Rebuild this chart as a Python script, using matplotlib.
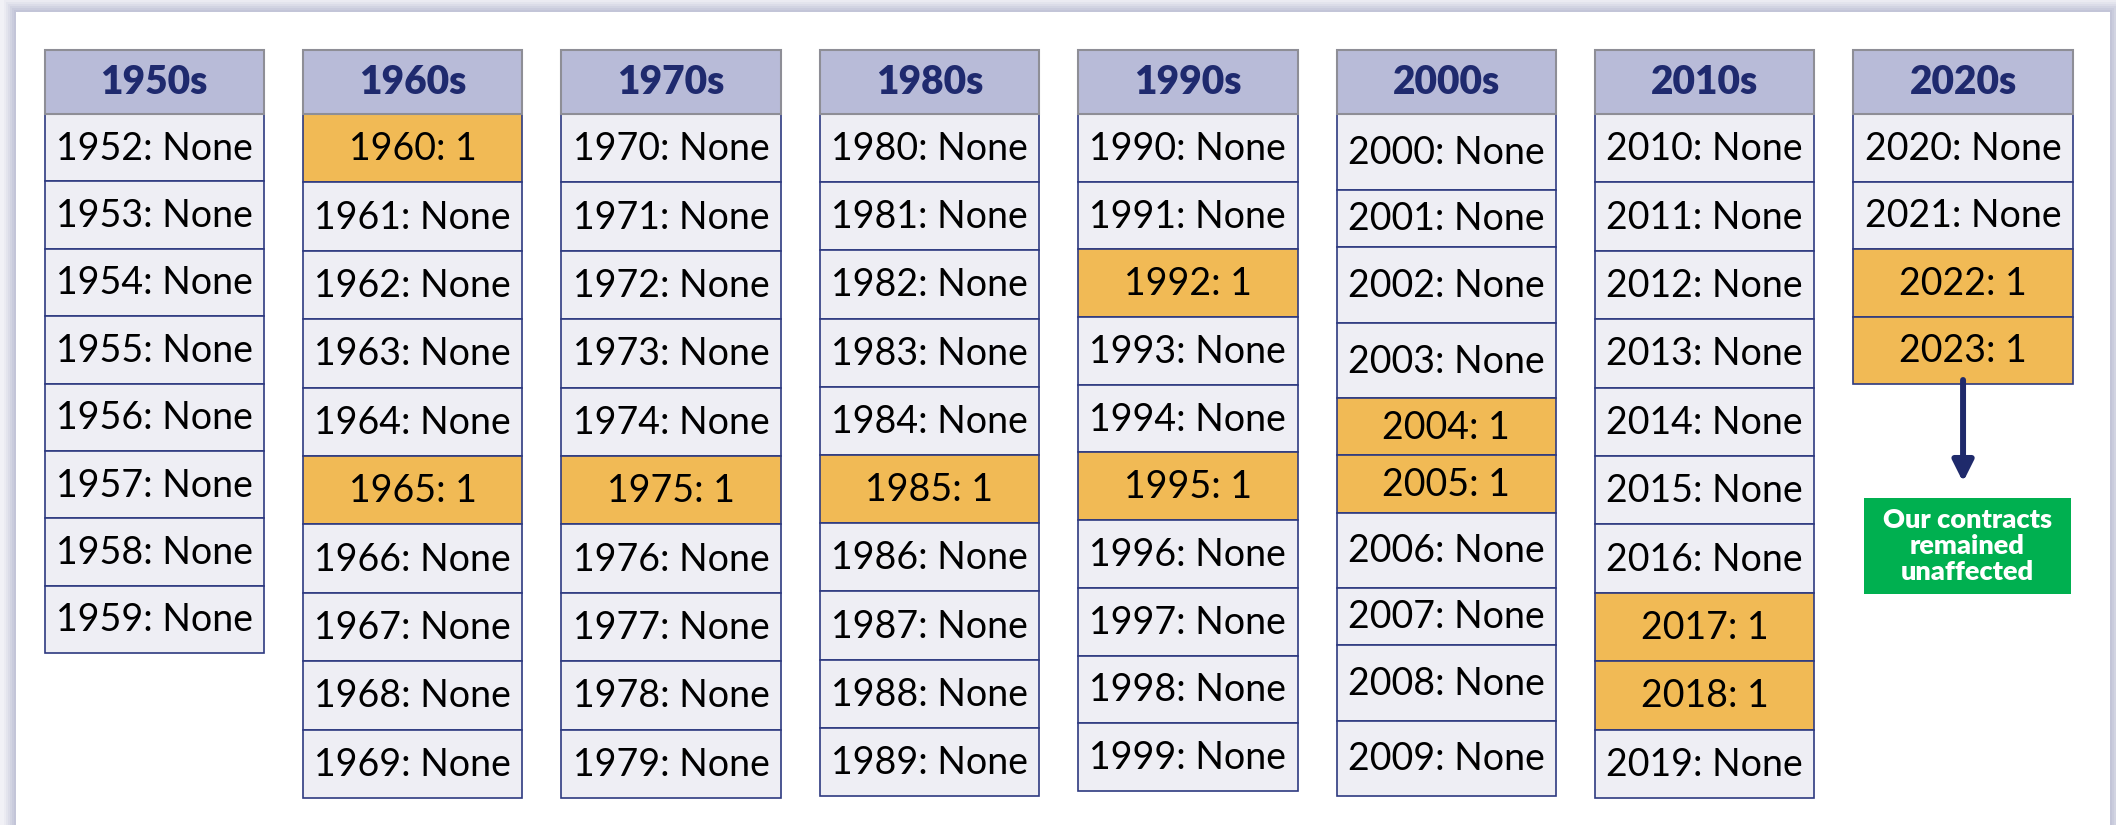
import matplotlib
matplotlib.use("Agg")
import matplotlib.pyplot as plt
from matplotlib.patches import Rectangle

# --- data ---
decades = ["1950s", "1960s", "1970s", "1980s", "1990s", "2000s", "2010s", "2020s"]
decade_years = [
    list(range(1952, 1960)),
    list(range(1960, 1970)),
    list(range(1970, 1980)),
    list(range(1980, 1990)),
    list(range(1990, 2000)),
    list(range(2000, 2010)),
    list(range(2010, 2020)),
    list(range(2020, 2024)),
]
hit_years = [1960, 1965, 1975, 1985, 1992, 1995, 2004, 2005, 2017, 2018, 2022, 2023]
note_text = "Our contracts\nremained\nunaffected"

# --- layout (pixels, figure is 2116x825 at dpi 100) ---
W, H = 2116, 825
col_x0, col_pitch, col_w = 44.5, 258.4, 219.5
head_top, head_bot = 49.5, 114.0
col_bottoms = [653, 798, 798, 796, 791, 796, 798, 384]
# the 2000s table has uneven row heights in the original
row_weights = {5: [76, 57, 75.7, 75.7, 57, 57.3, 75.3, 57, 75.7, 75.3]}

HEAD_FILL = "#b8bbd8"
HEAD_EDGE = "#8e8e96"
HEAD_TEXT = "#1f2a6e"
CELL_FILL = "#eeeef4"
CELL_EDGE = "#2e3a80"
HIT_FILL = "#f1ba55"
ARROW = "#1f2a6b"
GREEN = "#00b050"

plt.rcParams["font.family"] = ["Lato", "DejaVu Sans"]

fig = plt.figure(figsize=(W / 100, H / 100), dpi=100, facecolor="#f1f1f6")
ax = fig.add_axes([0, 0, 1, 1])
ax.set_xlim(0, W)
ax.set_ylim(H, 0)
ax.axis("off")

# soft frame around the white panel
for k, a in enumerate([0.10, 0.14, 0.18, 0.24, 0.30, 0.38]):
    pad = 12 - 2 * k
    ax.add_patch(Rectangle((16 - pad, 12 - pad), 2094 + 2 * pad, H, facecolor="#b9bcd2",
                           edgecolor="none", alpha=a, zorder=0))
ax.add_patch(Rectangle((16, 12), 2094, H, facecolor="white", edgecolor="none", zorder=1))

for i, (dec, years) in enumerate(zip(decades, decade_years)):
    x = col_x0 + i * col_pitch
    ax.add_patch(Rectangle((x, head_top), col_w, head_bot - head_top, facecolor=HEAD_FILL,
                           edgecolor=HEAD_EDGE, lw=1.5, zorder=3))
    ax.text(x + col_w / 2, (head_top + head_bot) / 2 + 1, dec, ha="center", va="center",
            fontsize=28, fontweight="heavy", color=HEAD_TEXT, zorder=4)

    total = col_bottoms[i] - head_bot
    weights = row_weights.get(i, [1] * len(years))
    heights = [total * w / sum(weights) for w in weights]
    y = head_bot
    for yr, h in zip(years, heights):
        hit = yr in hit_years
        ax.add_patch(Rectangle((x, y), col_w, h, facecolor=HIT_FILL if hit else CELL_FILL,
                               edgecolor=CELL_EDGE, lw=1.2, zorder=2))
        label = f"{yr}: 1" if hit else f"{yr}: None"
        ax.text(x + col_w / 2, y + h / 2 + 1, label, ha="center", va="center",
                fontsize=27, color="black", zorder=4)
        y += h

# arrow from the last decade down to the note
last_x = col_x0 + (len(decades) - 1) * col_pitch + col_w / 2
ax.annotate("", xy=(last_x, 482), xytext=(last_x, col_bottoms[-1] - 4),
            arrowprops=dict(arrowstyle="-|>,head_length=1.0,head_width=0.5", color=ARROW,
                            lw=4.3, mutation_scale=12.5, shrinkA=0, shrinkB=0), zorder=5)

ax.add_patch(Rectangle((1863.5, 498), 207.5, 96, facecolor=GREEN, edgecolor="none", zorder=3))
ax.text(1863.5 + 207.5 / 2, 546, note_text, ha="center", va="center", fontsize=19.5,
        fontweight="heavy", color="white", linespacing=1.12, zorder=4)

fig.savefig("out.png", dpi=100, facecolor=fig.get_facecolor())
